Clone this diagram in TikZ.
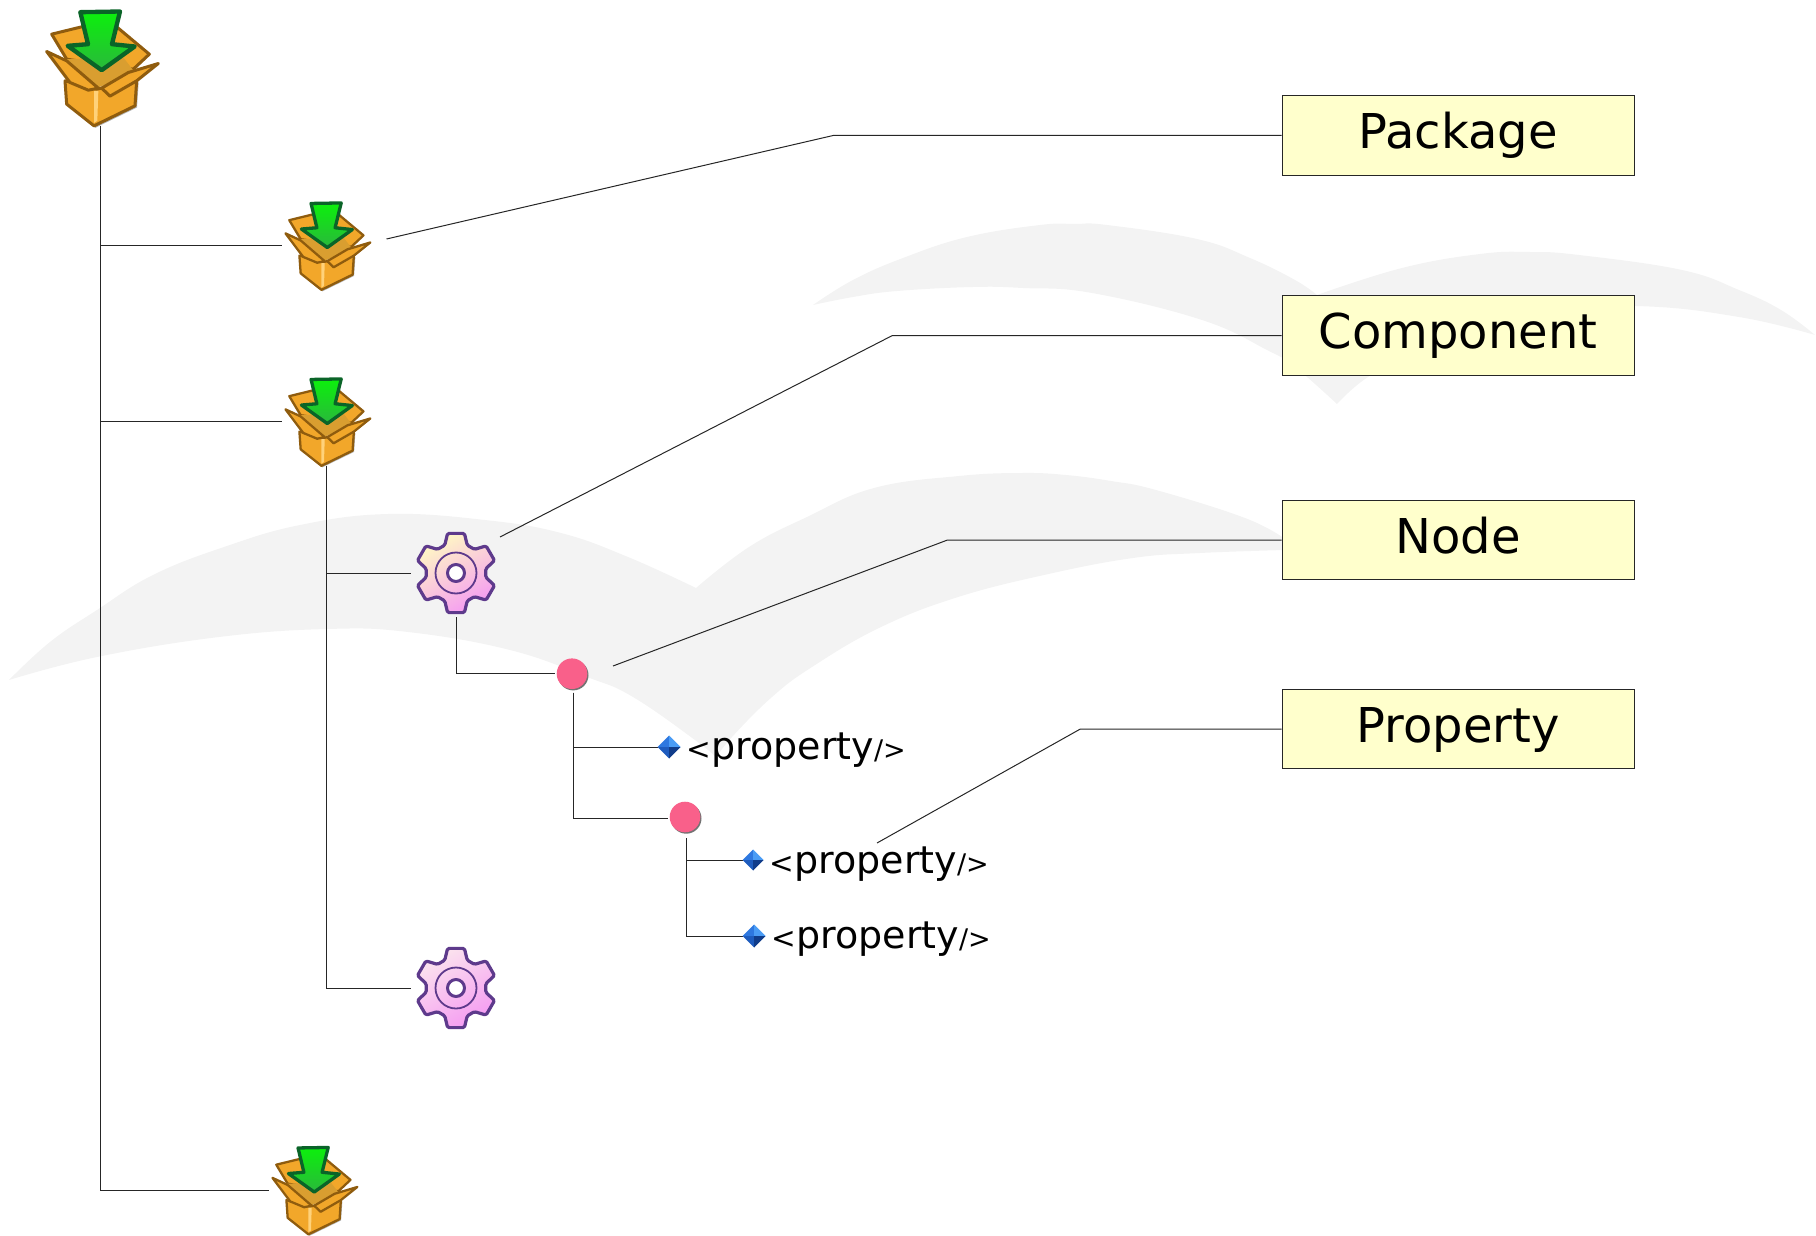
\documentclass[tikz,border=0pt]{standalone}
\usepackage{fontspec}
\setmainfont{DejaVu Sans}
\usetikzlibrary{calc}
\definecolor{gullgray}{HTML}{F3F3F3}
\definecolor{labelfill}{HTML}{FFFFCC}
\definecolor{boxbody}{HTML}{F2A72A}
\definecolor{boxinner}{HTML}{D99E30}
\definecolor{boxedge}{HTML}{8F5C0E}
\definecolor{boxlight}{HTML}{FFD27A}
\definecolor{arrowedge}{HTML}{0A6428}
\definecolor{arrowtop}{HTML}{0CF00C}
\definecolor{arrowbot}{HTML}{2AB83C}
\definecolor{gearedge}{HTML}{5E3A8C}
\definecolor{gearyellow}{HTML}{FFF8C4}
\definecolor{gearpink}{HTML}{F59CF2}
\definecolor{gearpale}{HTML}{FBE4EE}
\definecolor{dotpink}{HTML}{F9608A}
\definecolor{diamtl}{HTML}{2E78E0}
\definecolor{diamtr}{HTML}{4A9CF5}
\definecolor{diambl}{HTML}{1E5CBE}
\definecolor{diambr}{HTML}{103C8A}
\tikzset{
  gull/.style={fill=gullgray,draw=none},
  conn/.style={draw=black!85,line width=1pt},
  holder/.style={inner sep=0pt,outer sep=0pt},
  pkgbig/.style={holder,minimum width=112pt,minimum height=118pt},
  pkgsmall/.style={holder,minimum width=88pt,minimum height=89pt},
  gearnode/.style={holder,minimum width=90pt,minimum height=88pt},
  labelbox/.style={draw=black!85,line width=1pt,fill=labelfill,inner sep=0pt,minimum width=352pt,minimum height=79.5pt,text height=36pt,text depth=10pt,font=\fontsize{48}{50}\selectfont},
  proptext/.style={anchor=base west,inner sep=0pt,font=\fontsize{38}{40}\selectfont}
}
\newcommand{\smalltail}{\fontsize{27}{30}\selectfont}
\newcommand{\smallhead}{\fontsize{29.5}{30}\selectfont}
\newcommand{\proptag}{{\smallhead<}property{\smalltail/>}}
\newcommand{\pkgicon}[2]{%
\begin{scope}[shift={(#1)},x=#2pt,y=-#2pt,shift={(-300,-200)},line join=round]
  \pgfmathsetmacro{\lw}{9*#2}
  \pgfmathsetmacro{\lwa}{13*#2}
  \draw[fill=boxbody,draw=boxedge,line width=\lw pt] (155,100)--(245,78)--(350,78)--(448,160)--(400,205)--(200,175)--cycle;
  \fill[boxinner] (195,175)--(370,170)--(405,215)--(290,262)--(210,195)--cycle;
  \fill[black!30] (200,250)--(296,270)--(416,245)--(411,320)--(286,381)--(205,316)--cycle;
  \draw[fill=boxbody,draw=boxedge,line width=\lw pt] (195,240)--(290,265)--(410,240)--(405,315)--(282,375)--(200,310)--cycle;
  \fill[boxlight] (282,270)--(295,270)--(292,360)--(282,366)--cycle;
  \draw[fill=boxbody,draw=boxedge,line width=\lw pt] (140,152)--(200,180)--(295,262)--(265,268)--(210,245)--cycle;
  \draw[fill=boxbody,draw=boxedge,line width=\lw pt] (475,188)--(385,215)--(305,262)--(330,286)--(410,240)--cycle;
  \draw[top color=arrowtop,bottom color=arrowbot,draw=arrowedge,line width=\lwa pt] (241,34)--(360,32)--(336,130)--(404,137)--(305,208)--(203,135)--(264,130)--cycle;
\end{scope}}
\newcommand{\gearicon}[3]{%
\begin{scope}[shift={(#1)},line join=round]
  \shade[top color=#2,bottom color=#3,shading angle=30] (68:30)--(78:40.5)--(102:40.5)--(112:30)--(128:30)--(138:40.5)--(162:40.5)--(172:30)--(188:30)--(198:40.5)--(222:40.5)--(232:30)--(248:30)--(258:40.5)--(282:40.5)--(292:30)--(308:30)--(318:40.5)--(342:40.5)--(352:30)--(8:30)--(18:40.5)--(42:40.5)--(52:30)--cycle;
  \draw[draw=gearedge,line width=3.2pt,rounded corners=1.5pt] (68:30)--(78:40.5)--(102:40.5)--(112:30)--(128:30)--(138:40.5)--(162:40.5)--(172:30)--(188:30)--(198:40.5)--(222:40.5)--(232:30)--(248:30)--(258:40.5)--(282:40.5)--(292:30)--(308:30)--(318:40.5)--(342:40.5)--(352:30)--(8:30)--(18:40.5)--(42:40.5)--(52:30)--cycle;
  \draw[draw=gearedge,line width=1.8pt] (0,0) circle[radius=20.5];
  \draw[draw=gearedge,line width=3pt,fill=white] (0,0) circle[radius=8.5];
\end{scope}}
\newcommand{\doticon}[1]{%
\fill[black!55] ($(#1)+(1.2,1.4)$) circle[radius=15.3];
\fill[dotpink] (#1) circle[radius=15.3];}
\newcommand{\diamicon}[2]{%
\begin{scope}[shift={(#1)},line join=round]
  \fill[diamtl] (0,0)--(0,-#2)--(-#2,0)--cycle;
  \fill[diamtr] (0,0)--(0,-#2)--(#2,0)--cycle;
  \fill[diambl] (0,0)--(-#2,0)--(0,#2)--cycle;
  \fill[diambr] (0,0)--(#2,0)--(0,#2)--cycle;
\end{scope}}
\begin{document}
\begin{tikzpicture}[x=1pt,y=-1pt]
\useasboundingbox (0,0) rectangle (1816,1236);
% background gulls
\fill[gull] plot[smooth,tension=.7] coordinates {(9,680)(50,642)(97,610)(153,575)(224,547)(300,525)(388,514)(485,520)(561,533)(628,557)(696,588)}
  -- plot[smooth,tension=.7] coordinates {(696,588)(749,547)(807,517)(874,488)(959,476)(1022,473)(1066,475)(1111,481)(1156,490)(1245,518)(1285,539)}
  -- plot[smooth,tension=.7] coordinates {(1285,550)(1200,553)(1133,558)(1044,575)(955,598)(879,628)(812,667)(772,697)(732,737)(716,758)}
  -- plot[smooth,tension=.7] coordinates {(716,758)(699,743)(633,697)(587,677)(510,650)(408,632)(327,629)(219,637)(97,657)(9,680)} -- cycle;
\fill[gull] plot[smooth,tension=.7] coordinates {(813,305)(853,280)(903,258)(967,237)(1040,225)(1075,224)(1107,225)(1197,239)(1250,258)(1295,280)(1317,295)}
  -- plot[smooth,tension=.7] coordinates {(1317,295)(1402,268)(1480,254)(1530,252)(1579,255)(1682,270)(1739,290)(1781,310)(1815,335)}
  -- plot[smooth,tension=.7] coordinates {(1815,335)(1739,317)(1636,306)(1500,310)(1420,350)(1368,377)(1337,404)}
  -- plot[smooth,tension=.7] coordinates {(1337,404)(1295,367)(1267,350)(1202,320)(1092,293)(1023,288)(973,287)(897,291)(853,297)(813,305)} -- cycle;
% holder nodes
\node[pkgbig] (pkg0) at (100,67.5) {};
\node[pkgsmall] (pkg1) at (326,245.5) {};
\node[pkgsmall] (pkg2) at (326,421.5) {};
\node[pkgsmall] (pkg3) at (313,1190) {};
\node[gearnode] (gear1) at (456,573) {};
\node[gearnode] (gear2) at (456,988) {};
\node[holder,minimum width=38pt,minimum height=38pt] (n1) at (573.5,673.7) {};
\node[holder,minimum width=37.4pt,minimum height=40pt] (n2) at (686.7,818) {};
\node[holder,minimum width=22pt,minimum height=24pt] (p1) at (669,747) {};
\node[holder,minimum width=20pt,minimum height=22pt] (p2) at (753,860) {};
\node[holder,minimum width=22pt,minimum height=24pt] (p3) at (754,936) {};
\node[labelbox] (lab1) at (1458,135.3) {Package};
\node[labelbox] (lab2) at (1458,335.7) {Component};
\node[labelbox] (lab3) at (1458,540.2) {Node};
\node[labelbox] (lab4) at (1458,729.2) {Property};
\node[proptext] (t1) at (686.5,759) {\proptag};
\node[proptext] (t2) at (769.5,873) {\proptag};
\node[proptext] (t3) at (771.5,948) {\proptag};
% tree connectors
\draw[conn] (pkg0.south) |- (pkg1.west);
\draw[conn] (pkg0.south) |- (pkg2.west);
\draw[conn] (pkg0.south) |- (pkg3.west);
\draw[conn] (pkg2.south) |- (gear1.west);
\draw[conn] (pkg2.south) |- (gear2.west);
\draw[conn] (gear1.south) |- (n1.west);
\draw[conn] (n1.south) |- (p1.west);
\draw[conn] (n1.south) |- (n2.west);
\draw[conn] (n2.south) |- (p2.west);
\draw[conn] (n2.south) |- (p3.west);
% leader lines
\coordinate (s1) at (386.5,239); \coordinate (b1) at (834,135.3);
\coordinate (s2) at (500,537);   \coordinate (b2) at (892,335.7);
\coordinate (s3) at (613,666);   \coordinate (b3) at (947,540.2);
\coordinate (s4) at (877,843);   \coordinate (b4) at (1080,729.2);
\draw[conn] (s1) -- (b1) -- (lab1.west);
\draw[conn] (s2) -- (b2) -- (lab2.west);
\draw[conn] (s3) -- (b3) -- (lab3.west);
\draw[conn] (s4) -- (b4) -- (lab4.west);
% icons
\pkgicon{pkg0.center}{.3333}
\pkgicon{pkg1.center}{.2533}
\pkgicon{pkg2.center}{.2533}
\pkgicon{pkg3.center}{.2533}
\gearicon{gear1.center}{gearyellow}{gearpink}
\gearicon{gear2.center}{gearpale}{gearpink}
\doticon{$(n1.center)+(-1.5,0)$}
\doticon{$(n2.center)+(-1.7,-1)$}
\diamicon{p1.center}{11.5}
\diamicon{p2.center}{10.5}
\diamicon{p3.center}{11.5}
\end{tikzpicture}
\end{document}
